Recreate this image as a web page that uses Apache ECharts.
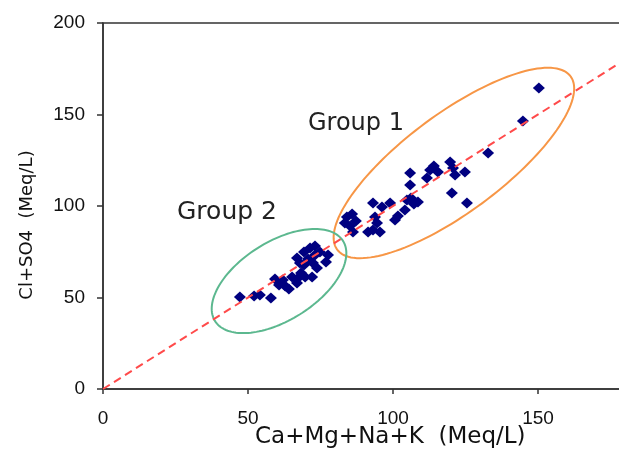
<!DOCTYPE html>
<html>
<head>
<meta charset="utf-8">
<script src="https://cdn.jsdelivr.net/npm/echarts@6/dist/echarts.min.js"></script>
<style>
  html, body { margin: 0; padding: 0; background: #fff; }
  #chart { width: 619px; height: 465px; }
</style>
</head>
<body>
<div id="chart"></div>
<script>
// Group 1 points (Ca+Mg+Na+K, Cl+SO4)
const group1X = [84.1, 85.9, 83.4, 85.2, 87.2, 86.2, 91.4, 93.1, 95.5, 94.5, 93.8, 93.1,
  96.2, 99.0, 100.7, 101.7, 104.1, 104.8, 106.2, 108.6, 107.2, 105.9, 105.9, 111.7,
  112.8, 114.1, 115.5, 119.7, 120.7, 121.4, 124.8, 120.3, 125.5, 132.8, 144.8, 150.3];
const group1Y = [94.0, 95.6, 90.7, 89.1, 91.8, 85.8, 85.8, 86.9, 85.8, 90.7, 94.0, 101.6,
  99.5, 101.6, 92.3, 94.5, 97.8, 103.3, 104.4, 102.2, 101.1, 111.5, 118.0, 115.3,
  119.7, 121.9, 118.6, 124.0, 120.8, 116.9, 118.6, 107.1, 101.6, 129.0, 146.4, 164.5];

// Group 2 points
const group2X = [47.2, 52.1, 54.1, 57.9, 59.3, 60.7, 62.8, 64.1, 65.2, 66.9, 68.3, 69.7,
  72.1, 67.9, 66.9, 69.3, 71.4, 73.1, 73.1, 70.7, 69.3, 72.4, 74.8, 77.6, 76.9, 73.8,
  66.9, 62.0];
const group2Y = [50.3, 50.8, 51.4, 49.7, 60.1, 56.8, 56.3, 54.6, 61.2, 60.1, 63.4, 61.2,
  61.2, 68.9, 71.6, 74.9, 77.0, 78.1, 73.2, 71.0, 67.8, 68.9, 74.9, 73.2, 69.4, 66.1,
  57.9, 59.6];

// 1:1 line
const refLine = [[0, 0], [180, 180]];

// ellipses: centre x, centre y, semi-axis u (x, y), semi-axis v (x, y), in data units
const ellipse1 = [121.0, 123.5, 40.3, 47.2, -9.8, 21.9];
const ellipse2 = [60.7, 59.0, 22.1, 21.8, -7.1, 18.3];

const xTicks = [0, 50, 100, 150];

function pairs(xs, ys) {
  return xs.map((x, i) => [x, ys[i]]);
}

function drawEllipse(params, api) {
  const cx = api.value(0), cy = api.value(1);
  const ux = api.value(2), uy = api.value(3);
  const vx = api.value(4), vy = api.value(5);
  const pts = [];
  for (let i = 0; i < 144; i++) {
    const t = i / 144 * Math.PI * 2;
    const c = Math.cos(t), s = Math.sin(t);
    pts.push(api.coord([cx + ux * c + vx * s, cy + uy * c + vy * s]));
  }
  return {
    type: 'polygon',
    shape: { points: pts },
    style: { fill: 'none', stroke: api.visual('color'), lineWidth: 2 }
  };
}

const chart = echarts.init(document.getElementById('chart'));

chart.setOption({
  backgroundColor: '#fff',
  animation: false,
  grid: {
    left: 103, top: 23, bottom: 76, right: -6,
    outerBoundsMode: 'none', containLabel: false,
    show: true, borderColor: '#333', borderWidth: 1.5
  },
  xAxis: {
    type: 'value', min: 0, max: 180, interval: 50,
    axisLine: { show: true, lineStyle: { color: '#333', width: 1.5 } },
    axisTick: { show: true, length: 5, lineStyle: { color: '#333', width: 1.5 } },
    axisLabel: {
      margin: 20, showMaxLabel: false,
      fontFamily: 'Arial', fontSize: 19, color: '#111',
      formatter: v => (xTicks.indexOf(v) >= 0 ? String(v) : '')
    },
    splitLine: { show: false }
  },
  yAxis: {
    type: 'value', min: 0, max: 200, interval: 50,
    axisLine: { show: true, lineStyle: { color: '#333', width: 1.5 } },
    axisTick: { show: true, length: 6, lineStyle: { color: '#333', width: 1.5 } },
    axisLabel: { margin: 18, fontFamily: 'Arial', fontSize: 19, color: '#111' },
    splitLine: { show: false }
  },
  graphic: [
    { type: 'text', left: 255, top: 426,
      style: { text: 'Ca+Mg+Na+K  (Meq/L)', fontFamily: 'DejaVu Sans', fontSize: 23, fill: '#111' } },
    { type: 'text', x: 27, y: 225, rotation: Math.PI / 2,
      style: { text: 'Cl+SO4  (Meq/L)', fontFamily: 'DejaVu Sans', fontSize: 18, fill: '#111',
        align: 'center', verticalAlign: 'middle' } },
    { type: 'text', left: 308, top: 112,
      style: { text: 'Group 1', fontFamily: 'DejaVu Sans', fontSize: 24, fill: '#222' } },
    { type: 'text', left: 177, top: 200,
      style: { text: 'Group 2', fontFamily: 'DejaVu Sans', fontSize: 25, fill: '#222' } }
  ],
  series: [
    {
      type: 'scatter', name: 'Group 1', data: pairs(group1X, group1Y),
      symbol: 'diamond', symbolSize: [12, 11],
      itemStyle: { color: '#000080', opacity: 1 }
    },
    {
      type: 'scatter', name: 'Group 2', data: pairs(group2X, group2Y),
      symbol: 'diamond', symbolSize: [12, 11],
      itemStyle: { color: '#000080', opacity: 1 }
    },
    {
      type: 'custom', data: [ellipse1], renderItem: drawEllipse,
      itemStyle: { color: '#f79646' }, silent: true
    },
    {
      type: 'custom', data: [ellipse2], renderItem: drawEllipse,
      itemStyle: { color: '#5cb88f' }, silent: true
    },
    {
      type: 'line', data: refLine, symbol: 'none', silent: true,
      lineStyle: { color: '#ff4a4a', width: 2, type: [8, 5] }
    }
  ]
});
</script>
</body>
</html>
